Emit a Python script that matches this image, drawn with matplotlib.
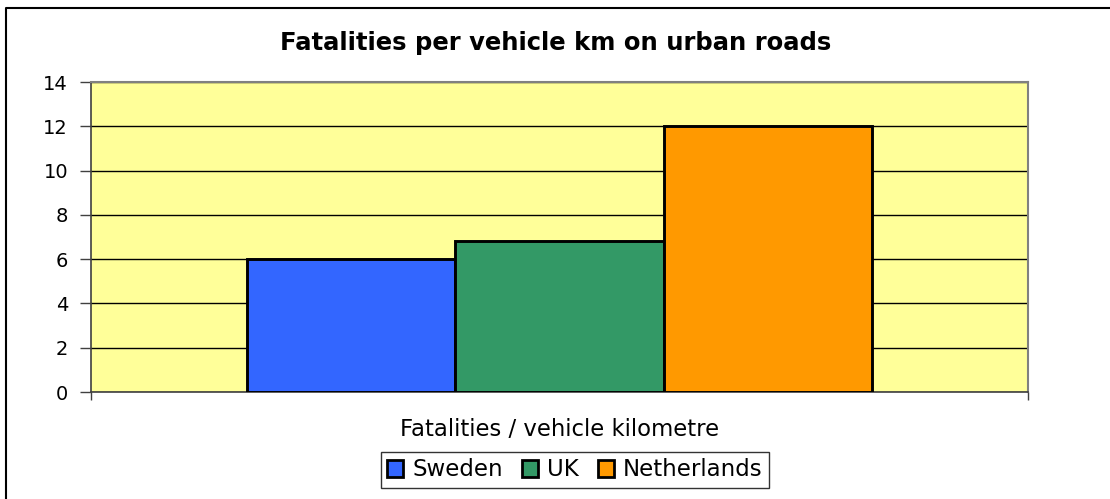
import matplotlib.pyplot as plt
from matplotlib.lines import Line2D

plt.rcParams['font.family'] = ['DejaVu Sans']

countries = ['Sweden', 'UK', 'Netherlands']
values = [6.0, 6.8, 12.0]
colors = ['#3366FF', '#339966', '#FF9900']
category = 'Fatalities / vehicle kilometre'
yticks = [0, 2, 4, 6, 8, 10, 12, 14]

fig = plt.figure(figsize=(11.10, 4.99), dpi=100)
# outer chart border, only top and left are visible
bx, by = 6 / 1110, 1 - 8 / 499
fig.lines.append(Line2D([bx, bx, 1.1], [-0.1, by, by], transform=fig.transFigure,
                        color='black', linewidth=1.5))

ax = fig.add_axes([91 / 1110, 1 - 392 / 499, 937 / 1110, 310 / 499])
ax.set_facecolor('#FFFF99')

w = 0.2225
for i, (name, v, c) in enumerate(zip(countries, values, colors)):
    ax.bar((i - 1) * w, v, width=w, color=c, edgecolor='black', linewidth=2.1,
           label=name, zorder=3)

ax.set_xlim(-0.5, 0.5)
ax.set_ylim(0, 14)
ax.set_yticks(yticks)
ax.set_xticks([-0.5, 0.5])
ax.set_xticklabels(['', ''])
ax.tick_params(axis='y', labelsize=14, length=8, width=1, color='#404040', pad=8.5)
ax.tick_params(axis='x', length=6, width=1, color='#404040')
ax.yaxis.grid(True, color='black', linewidth=1, zorder=1)
ax.set_axisbelow(True)

for s in ['top', 'right']:
    ax.spines[s].set_color('#808080')
    ax.spines[s].set_linewidth(1.5)
for s in ['left', 'bottom']:
    ax.spines[s].set_color('#404040')
    ax.spines[s].set_linewidth(1.2)

ax.set_xlabel(category, fontsize=16.4, labelpad=9)
fig.text(0.501, 1 - 43 / 499, 'Fatalities per vehicle km on urban roads',
         ha='center', va='center', fontsize=17.5, fontweight='bold')

leg = fig.legend(loc='center', bbox_to_anchor=(575 / 1110, 1 - 470 / 499), ncol=3,
                 fontsize=16.5, frameon=True, fancybox=False, handlelength=0.7,
                 handleheight=0.7, handletextpad=0.38, columnspacing=0.85,
                 borderpad=0.3, borderaxespad=0)
leg.get_frame().set_edgecolor('black')
leg.get_frame().set_linewidth(1)
for h in leg.legend_handles:
    h.set_linewidth(2.0)

fig.savefig('out.png', dpi=100)
